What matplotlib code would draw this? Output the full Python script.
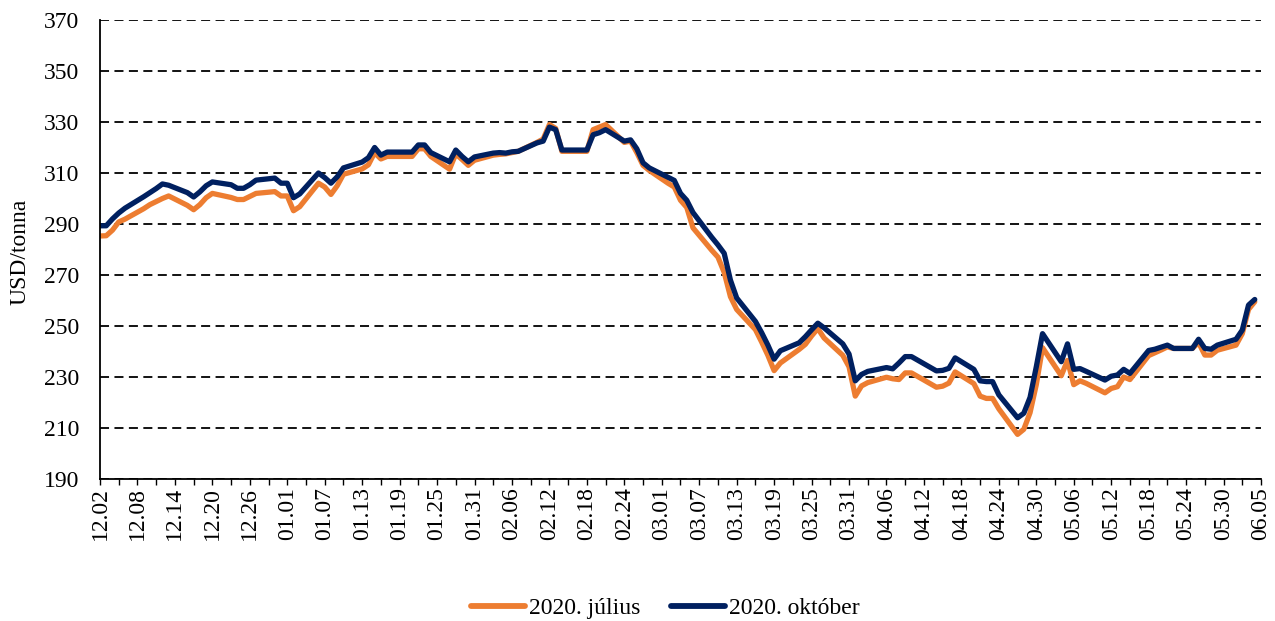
import matplotlib
matplotlib.use('Agg')
import matplotlib.pyplot as plt
import pandas as pd

# ---- data (USD/tonna), every weekday 2019-12-02 .. 2020-06-04 ----
dates = pd.bdate_range('2019-12-02', '2020-06-04')

july = [
    285.3, 285.4, 287.6, 290.8, 291.9,
    296.0, 297.6, 298.8, 300.0, 301.0,
    297.3, 295.6, 297.6, 300.3, 302.0,
    300.4, 299.6, 299.6, 300.8, 302.0,
    302.7, 301.0, 301.0, 295.2, 296.8,
    306.0, 304.5, 301.6, 305.0, 309.5,
    311.6, 313.2, 318.0, 315.5, 316.5,
    316.5, 316.5, 319.5, 319.5, 316.5,
    311.5, 317.5, 315.3, 313.0, 315.0,
    317.0, 317.3, 317.5, 318.0, 318.5,
    322.0, 323.3, 329.0, 327.5, 318.5,
    318.5, 318.5, 327.0, 328.0, 329.0,
    322.0, 322.5, 318.0, 313.0, 311.0,
    306.0, 304.5, 299.3, 296.5, 288.5,
    279.7, 277.0, 271.0, 261.5, 256.5,
    248.6, 243.7, 238.5, 232.5, 235.5,
    240.8, 242.8, 246.1, 249.0, 245.3,
    238.5, 234.0, 222.5, 226.5, 227.8,
    229.9, 229.3, 229.0, 231.6, 231.6,
    227.4, 226.0, 226.4, 227.6, 232.0,
    227.4, 222.5, 221.6, 221.6, 217.5,
    207.5, 209.5, 216.0, 227.0, 241.5,
    230.5, 236.5, 227.0, 228.5, 227.5,
    223.8, 225.5, 226.2, 230.0, 229.0,
    238.4, 239.5, 240.6, 241.8, 241.2,
    241.2, 243.5, 238.6, 238.6, 240.5,
    242.5, 247.0, 256.5, 259.5,
]

october = [
    289.3, 289.3, 292.0, 294.3, 296.2,
    300.7, 302.3, 303.9, 305.7, 305.2,
    302.3, 300.6, 302.6, 305.0, 306.5,
    305.4, 304.0, 304.0, 305.4, 307.2,
    308.0, 306.0, 306.0, 300.3, 301.8,
    310.0, 308.2, 306.0, 308.5, 312.0,
    314.3, 316.0, 320.0, 317.0, 318.2,
    318.2, 318.2, 321.0, 321.0, 318.0,
    314.4, 319.0, 316.5, 314.4, 316.3,
    317.8, 318.0, 317.8, 318.3, 318.5,
    321.8, 322.5, 328.0, 327.0, 319.0,
    319.0, 319.0, 325.0, 325.8, 327.0,
    322.5, 323.0, 319.5, 314.0, 312.0,
    308.3, 307.1, 302.0, 299.3, 294.5,
    284.8, 281.8, 278.5, 268.0, 261.0,
    251.8, 247.4, 242.5, 237.0, 240.3,
    243.4, 245.8, 248.5, 251.1, 249.3,
    243.0, 239.0, 228.5, 231.0, 232.2,
    233.7, 233.2, 235.5, 238.0, 238.0,
    233.8, 232.4, 232.6, 233.4, 237.5,
    233.0, 228.5, 228.2, 228.2, 223.0,
    214.0, 215.8, 222.0, 234.0, 247.0,
    236.0, 243.0, 233.0, 233.3, 232.2,
    228.8, 230.3, 230.8, 233.0, 231.4,
    240.4, 240.9, 241.7, 242.5, 241.2,
    241.2, 244.8, 241.2, 240.9, 242.5,
    244.8, 248.4, 258.2, 260.4,
]

series_names = ['2020. július', '2020. október']
series_colors = ['#ED7D31', '#002060']
y_label = 'USD/tonna'
y_ticks = list(range(190, 371, 20))

# ---- figure ----
plt.rcParams['font.family'] = ['Liberation Serif', 'DejaVu Serif']
FS = 17

W, H = 1275, 621
fig = plt.figure(figsize=(W / 100, H / 100), dpi=100)
ax = fig.add_axes([100 / W, 1 - 479 / H, 1161 / W, 459 / H])

for vals, name, col in zip([july, october], series_names, series_colors):
    ax.plot(dates, vals, color=col, lw=3.8, label=name,
            solid_joinstyle='round', solid_capstyle='round', zorder=3)

ax.set_ylim(190, 370)
ax.set_yticks(y_ticks)
ax.set_xlim(pd.Timestamp('2019-12-02'), pd.Timestamp('2020-06-05'))

xt = pd.date_range('2019-12-02', '2020-06-05', freq='3D')
ax.set_xticks(xt)
ax.set_xticklabels([d.strftime('%m.%d') if i % 2 == 0 else '' for i, d in enumerate(xt)],
                   rotation=90, fontsize=FS)
for lab in ax.get_yticklabels():
    lab.set_fontsize(FS)

ax.yaxis.grid(True, linestyle=(0, (5.0, 3.0)), color='black', lw=1.3)
ax.set_axisbelow(True)
for s in ['top', 'right']:
    ax.spines[s].set_visible(False)
for s in ['left', 'bottom']:
    ax.spines[s].set_color('black')
    ax.spines[s].set_linewidth(1.3)
    ax.spines[s].set_zorder(4)

ax.tick_params(axis='x', direction='out', length=4, width=1.0, pad=2, colors='black')
ax.tick_params(axis='y', direction='out', length=0, pad=15, colors='black')

fig.text(20 / W, 1 - 252 / H, y_label, rotation=90, ha='center', va='center', fontsize=FS)

leg = fig.legend(loc='center', bbox_to_anchor=(665 / W, 1 - 608 / H), ncol=2,
                 frameon=False, fontsize=FS, handlelength=2.3, handletextpad=0.15,
                 columnspacing=1.3, borderaxespad=0)
for l in leg.get_lines():
    l.set_linewidth(4.2)
    l.set_solid_capstyle('round')

fig.savefig('out.png', dpi=100)
